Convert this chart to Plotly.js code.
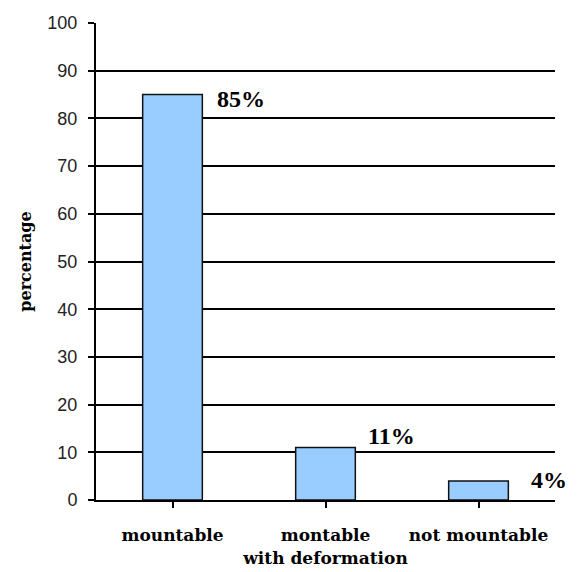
<!DOCTYPE html>
<html>
<head>
<meta charset="utf-8">
<script src="https://cdn.plot.ly/plotly-3.0.1.min.js"></script>
<style>html,body{margin:0;padding:0;background:#fff;}#chart{width:578px;height:572px;}</style>
</head>
<body>
<div id="chart"></div>
<script>
var categories = ["mountable", "montable<br>with deformation", "not mountable"];
var values = [85, 11, 4];
var labels = ["85%", "11%", "4%"];
var yTicks = [0, 10, 20, 30, 40, 50, 60, 70, 80, 90, 100];

var labelShift = [-4, 12, 1];
var labelXShift = [13, 11, 21];

var trace = {
  type: "bar",
  x: [0, 1, 2],
  y: values,
  marker: { color: "#99CCFF", line: { color: "#111111", width: 1.5 } },
  width: 0.39,
  hoverinfo: "skip"
};

var annotations = values.map(function (v, i) {
  return {
    x: i + 0.195, y: v, xref: "x", yref: "y",
    text: "<b>" + labels[i] + "</b>", showarrow: false,
    xanchor: "left", yanchor: "middle",
    xshift: labelXShift[i], yshift: labelShift[i],
    font: { family: "Liberation Serif", size: 24, color: "#000" }
  };
});

var layout = {
  width: 578, height: 572,
  margin: { l: 96, r: 23, t: 23, b: 72 },
  paper_bgcolor: "#fff", plot_bgcolor: "#fff",
  showlegend: false,
  xaxis: {
    range: [-0.5, 2.5],
    tickmode: "array", tickvals: [0, 1, 2],
    ticktext: categories.map(function (c) { return "<b>" + c + "</b>"; }),
    tickson: "boundaries",
    tickangle: 0,
    automargin: false,
    ticks: "outside", ticklen: 6, tickcolor: "#000", tickwidth: 2,
    ticklabelstandoff: 13,
    showgrid: false, zeroline: false,
    showline: true, linecolor: "#000", linewidth: 2,
    tickfont: { family: "DejaVu Serif", size: 17, color: "#000" },
    fixedrange: true
  },
  yaxis: {
    range: [0, 100],
    tickmode: "array", tickvals: yTicks,
    ticks: "outside", ticklen: 6, tickcolor: "#000", tickwidth: 2,
    ticklabelstandoff: 7,
    showgrid: true, gridcolor: "#000", gridwidth: 2,
    zeroline: false,
    showline: true, linecolor: "#000", linewidth: 2,
    tickfont: { family: "Liberation Sans", size: 18, color: "#222" },
    title: { text: "<b>percentage</b>", font: { family: "DejaVu Serif", size: 16, color: "#000" }, standoff: 12 },
    fixedrange: true
  },
  annotations: annotations
};

Plotly.newPlot("chart", [trace], layout, { displayModeBar: false, staticPlot: true });
</script>
</body>
</html>
